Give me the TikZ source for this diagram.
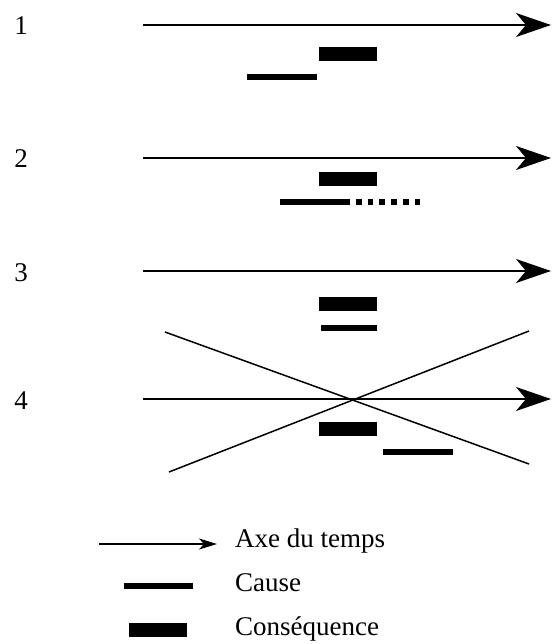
\documentclass[tikz,border=0pt]{standalone}
\usepackage{fontspec}
\setmainfont{Liberation Serif}
\usetikzlibrary{arrows.meta}

\tikzset{
  axe/.style = {line width=1.4pt, -{Stealth[length=35pt, width=24pt, inset=10pt]}},
  legaxe/.style = {line width=1.2pt, -{Stealth[length=18pt, width=11pt, inset=5pt]}},
  cause/.style = {line width=5.5pt},
  consq/.style = {line width=14pt},
  croix/.style = {line width=1.5pt},
  num/.style = {anchor=base, inner sep=0pt, font=\fontsize{27}{32}\selectfont},
  legtxt/.style = {anchor=base west, inner sep=0pt, font=\fontsize{27}{32}\selectfont}
}

\begin{document}
\begin{tikzpicture}[x=1pt, y=-1pt]
\useasboundingbox (0,0) rectangle (551,644);

% axes du temps
\foreach \n/\y in {1/25, 2/158, 3/271, 4/399}{
  \node[num] (n\n) at (21,\y+10) {\n};
  \coordinate (d\n) at (143,\y);
  \coordinate (f\n) at (551,\y);
  \draw[axe] (d\n) -- (f\n);
}

% 1
\coordinate (c1a) at (247,77);  \coordinate (c1b) at (317,77);
\coordinate (q1a) at (319,54.5);  \coordinate (q1b) at (377,54.5);
\draw[cause] (c1a) -- (c1b);
\draw[consq] (q1a) -- (q1b);

% 2
\coordinate (c2a) at (280,202);  \coordinate (c2b) at (350,202);
\coordinate (c2c) at (356,202);  \coordinate (c2d) at (421,202);
\coordinate (q2a) at (319,179);  \coordinate (q2b) at (377,179);
\draw[cause] (c2a) -- (c2b);
\draw[cause, dash pattern=on 5.7pt off 6pt] (c2c) -- (c2d);
\draw[consq] (q2a) -- (q2b);

% 3
\coordinate (c3a) at (321,328);  \coordinate (c3b) at (377,328);
\coordinate (q3a) at (319,304);  \coordinate (q3b) at (377,304);
\draw[cause] (c3a) -- (c3b);
\draw[consq] (q3a) -- (q3b);

% 4
\coordinate (c4a) at (383,452);  \coordinate (c4b) at (453,452);
\coordinate (q4a) at (319,429);  \coordinate (q4b) at (377,429);
\draw[cause] (c4a) -- (c4b);
\draw[consq] (q4a) -- (q4b);

% croix
\coordinate (x1) at (165,332);  \coordinate (x2) at (529,464);
\coordinate (x3) at (169,472);  \coordinate (x4) at (529,331);
\draw[croix] (x1) -- (x2);
\draw[croix] (x3) -- (x4);

% legende
\coordinate (la) at (99,544);   \coordinate (lb) at (217,544);
\coordinate (lc) at (124,586);  \coordinate (ld) at (193,586);
\coordinate (le) at (129,629.5);  \coordinate (lf) at (187,629.5);
\draw[legaxe] (la) -- (lb);
\draw[cause] (lc) -- (ld);
\draw[consq] (le) -- (lf);
\node[legtxt] (taxe) at (235,547) {Axe du temps};
\node[legtxt] (tcause) at (235,591) {Cause};
\node[legtxt] (tconsq) at (235,635) {Conséquence};
\end{tikzpicture}
\end{document}
